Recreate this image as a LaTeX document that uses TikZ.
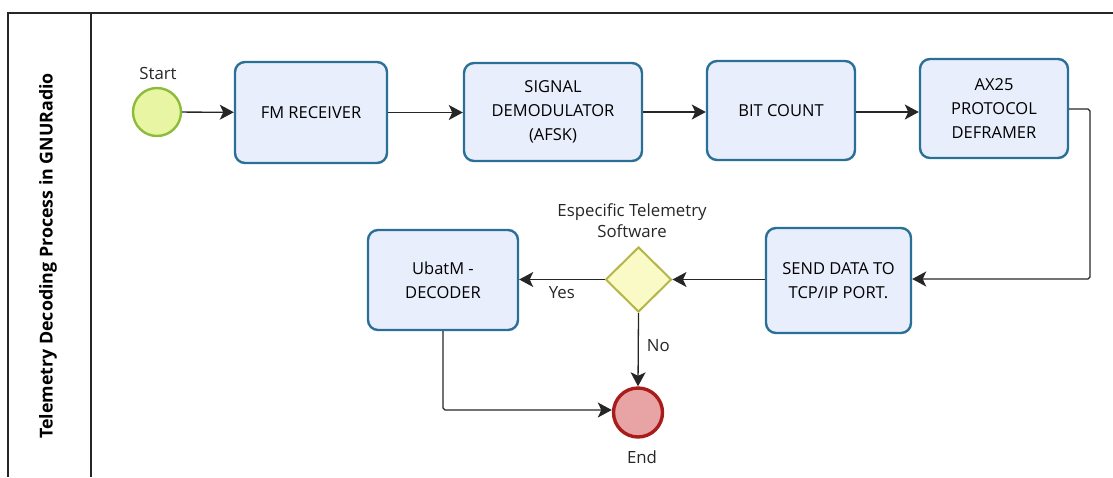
\documentclass[tikz,border=0pt]{standalone}
\usepackage{fontspec}
\setmainfont{Open Sans}
\usetikzlibrary{shapes.geometric,arrows.meta}
\definecolor{taskline}{HTML}{2A6F96}
\definecolor{taskfill}{HTML}{E8EEFB}
\definecolor{startline}{HTML}{8DBB3C}
\definecolor{startfill}{HTML}{E8F6A4}
\definecolor{endline}{HTML}{A81C1C}
\definecolor{endfill}{HTML}{E8A4A4}
\definecolor{gateline}{HTML}{B5B548}
\definecolor{gatefill}{HTML}{FAFAC6}
\definecolor{flowline}{HTML}{262626}
\tikzset{
  task/.style={draw=taskline, fill=taskfill, line width=2.4pt, rounded corners=10pt,
    align=center, font=\fontsize{16.5}{24}\selectfont, inner sep=0pt},
  startev/.style={circle, draw=startline, fill=startfill, line width=2.4pt, minimum size=48pt, inner sep=0pt},
  endev/.style={circle, draw=endline, fill=endfill, line width=3.4pt, minimum size=49pt, inner sep=0pt},
  gateway/.style={diamond, draw=gateline, fill=gatefill, line width=2pt, minimum width=66pt, minimum height=65pt, inner sep=0pt},
  % sequence flow: thin dark line with a filled stealth head
  flow/.style={draw=flowline, line width=1.3pt,
    -{Stealth[length=14pt, width=15pt, inset=3.5pt]}},
  lbl/.style={font=\fontsize{16.8}{21}\selectfont, text=black!85, align=center, inner sep=0pt},
  frame/.style={draw=flowline, line width=1.2pt}
}
\begin{document}
\begin{tikzpicture}[x=1pt,y=1pt]
  \useasboundingbox (0,0) rectangle (1113,-477);
  % pool and lane outline
  \coordinate (tl) at (8,-13);
  \coordinate (tr) at (1113,-13);
  \coordinate (bl) at (8,-477);
  \coordinate (dt) at (91,-13);
  \coordinate (db) at (91,-477);
  \draw[frame] (bl) -- (tl) -- (tr);
  \draw[frame] (dt) -- (db);
  \node[rotate=90, font=\bfseries\fontsize{17.8}{20}\selectfont] (title) at (48,-256)
    {Telemetry Decoding Process in GNURadio};

  % first row of tasks
  \node[startev] (start) at (157,-112) {};
  \node[lbl] (startlbl) at (158,-73) {Start};
  \node[task, minimum width=152pt, minimum height=101pt] (fm) at (311,-112.5) {FM RECEIVER};
  \node[task, minimum width=178pt, minimum height=98pt] (sig) at (553,-112) {SIGNAL\\DEMODULATOR\\(AFSK)};
  \node[task, minimum width=148pt, minimum height=99pt] (bit) at (781,-110.5) {BIT COUNT};
  \node[task, minimum width=148pt, minimum height=99pt] (ax) at (994,-108.5) {AX25\\PROTOCOL\\DEFRAMER};

  % second row
  \node[task, minimum width=145pt, minimum height=105pt] (send) at (838.5,-280.5) {SEND DATA TO\\TCP/IP PORT.};
  \node[gateway] (gw) at (638.5,-279.5) {};
  \node[lbl] (gwlbl) at (632,-221) {Especific Telemetry\\Software};
  \node[task, minimum width=150pt, minimum height=100pt] (ubat) at (443,-280) {UbatM -\\DECODER};
  \node[endev] (end) at (638,-412.5) {};
  \node[lbl] (endlbl) at (642,-457) {End};

  % sequence flows
  \coordinate (axout) at (1090,-109);
  \coordinate (sendin) at (1090,-279);
  \coordinate (ubatbend) at (443,-410);
  \draw[flow] (start) -- (fm);
  \draw[flow] (fm.east) -- (fm.east -| sig.west);
  \draw[flow] (sig.east) -- (sig.east -| bit.west);
  \draw[flow] ([yshift=-1.5pt]bit.east) -- ([yshift=-1.5pt]bit.east -| ax.west);
  \draw[flow] (ax.east |- axout) -- ([xshift=-2pt]axout) -- ([yshift=-2pt]axout)
    -- ([yshift=2pt]sendin) -- ([xshift=-2pt]sendin) -- (sendin -| send.east);
  \draw[flow] (send.west |- gw.east) -- (gw.east);
  \draw[flow] (gw.west) -- (gw.west -| ubat.east) node[lbl, pos=0.5, below=6pt] (yes) {Yes};
  \draw[flow] (gw.south) -- (end.north) node[lbl, pos=0.45, right=8pt] (no) {No};
  \draw[flow] (ubat.south) -- ([yshift=2pt]ubatbend) -- ([xshift=2pt]ubatbend) -- (ubatbend -| end.west);
\end{tikzpicture}
\end{document}
